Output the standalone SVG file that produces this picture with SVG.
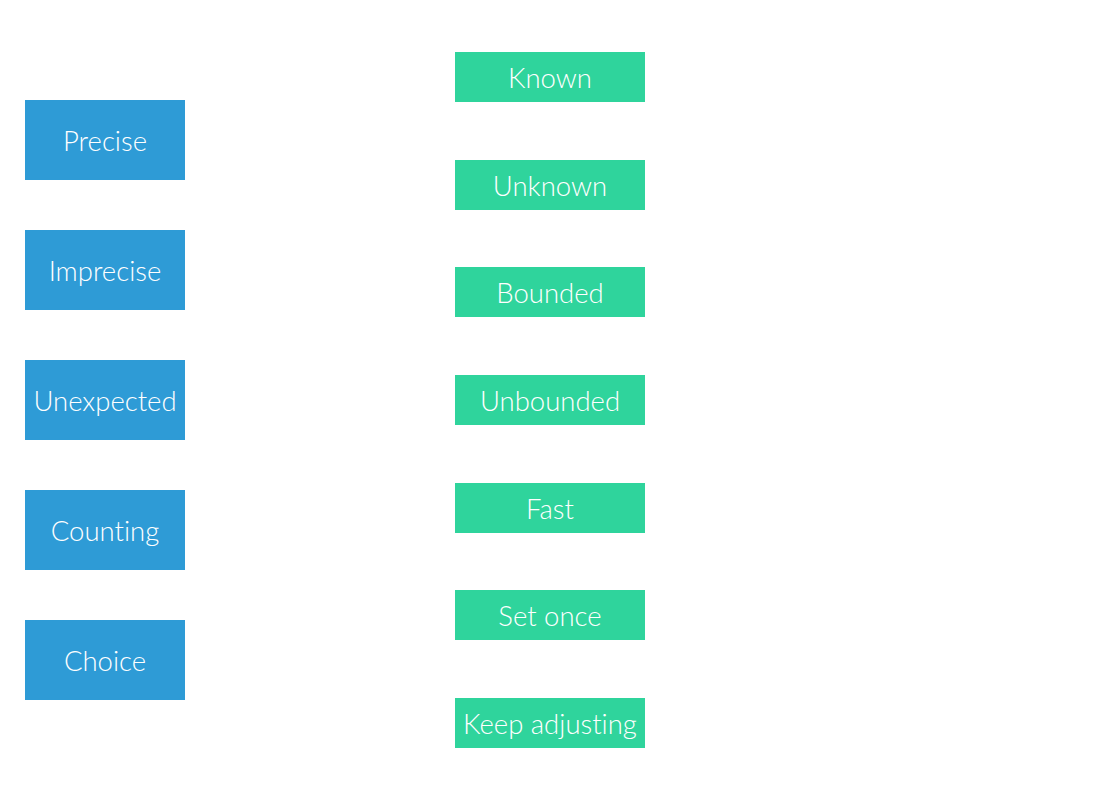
<svg xmlns="http://www.w3.org/2000/svg" width="1110" height="800" viewBox="0 0 1110 800">
<style>
.b{fill:#2e9bd6}
.g{fill:#2fd49c}
text{font-family:Lato,"Open Sans",sans-serif;font-size:27.5px;font-weight:300;fill:#ffffff;text-anchor:middle;dominant-baseline:central;font-variant-ligatures:none}
</style>
<rect width="1110" height="800" fill="#ffffff"/>
<g id="precise"><rect class="b" x="25" y="100" width="160" height="80"/><text x="105" y="140">Precise</text></g>
<g id="imprecise"><rect class="b" x="25" y="230" width="160" height="80"/><text x="105" y="270">Imprecise</text></g>
<g id="unexpected"><rect class="b" x="25" y="360" width="160" height="80"/><text x="105" y="400">Unexpected</text></g>
<g id="counting"><rect class="b" x="25" y="490" width="160" height="80"/><text x="105" y="530">Counting</text></g>
<g id="choice"><rect class="b" x="25" y="620" width="160" height="80"/><text x="105" y="660">Choice</text></g>
<g id="known"><rect class="g" x="455" y="52" width="190" height="50"/><text x="550" y="77">Known</text></g>
<g id="unknown"><rect class="g" x="455" y="160" width="190" height="50"/><text x="550" y="185">Unknown</text></g>
<g id="bounded"><rect class="g" x="455" y="267" width="190" height="50"/><text x="550" y="292">Bounded</text></g>
<g id="unbounded"><rect class="g" x="455" y="375" width="190" height="50"/><text x="550" y="400">Unbounded</text></g>
<g id="fast"><rect class="g" x="455" y="483" width="190" height="50"/><text x="550" y="508">Fast</text></g>
<g id="setonce"><rect class="g" x="455" y="590" width="190" height="50"/><text x="550" y="615">Set once</text></g>
<g id="keepadjusting"><rect class="g" x="455" y="698" width="190" height="50"/><text x="550" y="723">Keep adjusting</text></g>
<g id="connectors"></g>
</svg>
